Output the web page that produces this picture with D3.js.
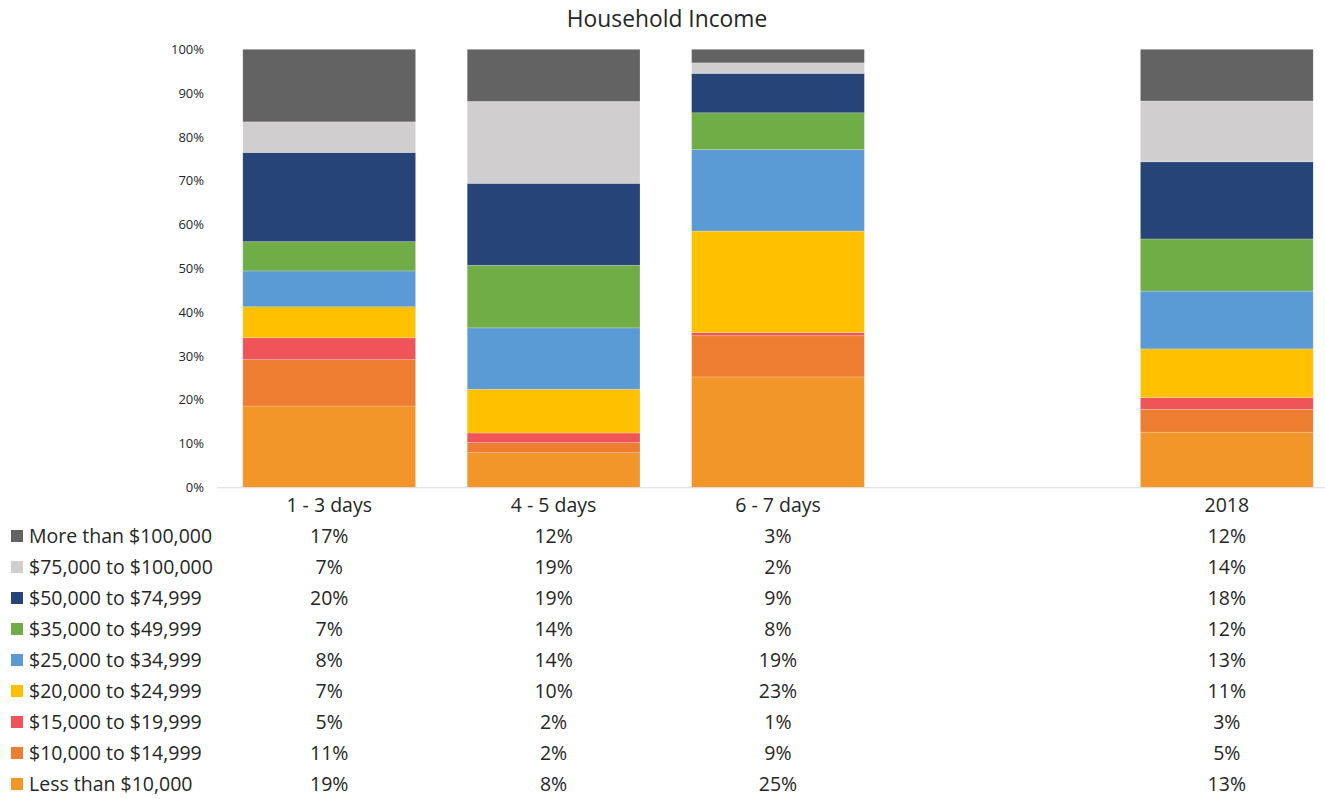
<!DOCTYPE html>
<html>
<head>
<meta charset="utf-8">
<script src="https://cdn.jsdelivr.net/npm/d3@7"></script>
<style>
  body { margin: 0; background: #fff; }
  text { font-family: "Open Sans", Lato, sans-serif; fill: #262626; }
</style>
</head>
<body>
<svg id="chart"></svg>
<script>
// categories (the empty one leaves the gap before 2018)
const categories = ["1 - 3 days", "4 - 5 days", "6 - 7 days", "", "2018"]

// income bands, bottom of the stack first
const incomeBands = [
  "Less than $10,000",
  "$10,000 to $14,999",
  "$15,000 to $19,999",
  "$20,000 to $24,999",
  "$25,000 to $34,999",
  "$35,000 to $49,999",
  "$50,000 to $74,999",
  "$75,000 to $100,000",
  "More than $100,000"
]
const bandColors = ["#F39629", "#ED7D31", "#EF5459", "#FFC000", "#5B9BD5", "#70AD47", "#264478", "#D0CECE", "#636363"]

// percent share per band, same order as incomeBands
const days1to3 = [18.6, 10.6, 5.0, 7.1, 8.2, 6.7, 20.4, 7.0, 16.6]
const days4to5 = [7.9, 2.3, 2.2, 10.0, 14.0, 14.3, 18.7, 18.7, 11.9]
const days6to7 = [25.2, 9.4, 0.7, 23.2, 18.6, 8.4, 9.0, 2.4, 3.1]
const year2018 = [12.6, 5.2, 2.7, 11.1, 13.2, 11.9, 17.6, 13.9, 11.8]

const yTicks = [0, 0.1, 0.2, 0.3, 0.4, 0.5, 0.6, 0.7, 0.8, 0.9, 1]

var width = 1325
var height = 799
var svg = d3.select('#chart').attr('width', width).attr('height', height)

// build one row per category for d3.stack
var seriesByCat = { "1 - 3 days": days1to3, "4 - 5 days": days4to5, "6 - 7 days": days6to7, "2018": year2018 }
var rows = categories.map(function (cat) {
  var row = { cat: cat }
  var vals = seriesByCat[cat]
  incomeBands.forEach(function (band, i) {
    row[band] = vals ? vals[i] : 0
  })
  return row
})

var x = d3.scaleBand()
  .domain(categories)
  .range([217, 217 + 5 * 224.4])
  .paddingInner(0.23)
  .paddingOuter(0.115)

var y = d3.scaleLinear().domain([0, 1]).range([487.3, 49.3])

var color = d3.scaleOrdinal().domain(incomeBands).range(bandColors)

var stacked = d3.stack()
  .keys(incomeBands)
  .offset(d3.stackOffsetExpand)(rows.filter(function (r) { return r.cat !== "" }))

// title
svg.append('text')
  .attr('x', 667).attr('y', 26.5)
  .attr('text-anchor', 'middle')
  .attr('font-size', 22.8)
  .text('Household Income')

// bars
var layers = svg.append('g').attr('class', 'bars')
  .selectAll('g')
  .data(stacked)
  .join('g')
  .attr('fill', function (d) { return color(d.key) })

layers.selectAll('rect')
  .data(function (d) { return d })
  .join('rect')
  .attr('x', function (d) { return x(d.data.cat) })
  .attr('width', x.bandwidth())
  .attr('y', function (d) { return y(d[1]) })
  .attr('height', function (d) { return y(d[0]) - y(d[1]) })
  .attr('stroke', '#ffffff')
  .attr('stroke-opacity', 0.35)
  .attr('stroke-width', 0.6)

// y axis (labels only)
var yAxis = d3.axisLeft(y).tickValues(yTicks).tickFormat(d3.format('.0%')).tickSize(0).tickPadding(0)
var yg = svg.append('g').attr('transform', 'translate(204,0)').call(yAxis)
yg.select('.domain').remove()
yg.selectAll('text').attr('font-size', 13).attr('fill', '#404040')
  .style('font-family', '"Open Sans", Lato, sans-serif')

// x axis line and category labels
svg.append('line')
  .attr('x1', 217).attr('x2', width)
  .attr('y1', y(0) + 0.5).attr('y2', y(0) + 0.5)
  .attr('stroke', '#d9d9d9').attr('stroke-width', 1)

svg.append('g').selectAll('text')
  .data(categories.filter(function (c) { return c !== "" }))
  .join('text')
  .attr('x', function (c) { return x(c) + x.bandwidth() / 2 })
  .attr('y', 512)
  .attr('text-anchor', 'middle')
  .attr('font-size', 19.5)
  .text(function (c) { return c })

// data table with legend keys, top band first
var tableRows = incomeBands.slice().reverse()
var rowY = d3.scalePoint().domain(tableRows).range([536, 784])

var tr = svg.append('g').selectAll('g')
  .data(tableRows)
  .join('g')
  .attr('transform', function (band) { return 'translate(0,' + rowY(band) + ')' })

tr.append('rect')
  .attr('x', 11).attr('y', -6).attr('width', 12).attr('height', 12)
  .attr('fill', function (band) { return color(band) })

tr.append('text')
  .attr('x', 29).attr('y', 7)
  .attr('font-size', 19.5)
  .text(function (band) { return band })

categories.filter(function (c) { return c !== "" }).forEach(function (cat) {
  tr.append('text')
    .attr('x', x(cat) + x.bandwidth() / 2)
    .attr('y', 7)
    .attr('text-anchor', 'middle')
    .attr('font-size', 19.5)
    .text(function (band) {
      var v = seriesByCat[cat][incomeBands.indexOf(band)]
      return Math.round(v) + '%'
    })
})
</script>
</body>
</html>
